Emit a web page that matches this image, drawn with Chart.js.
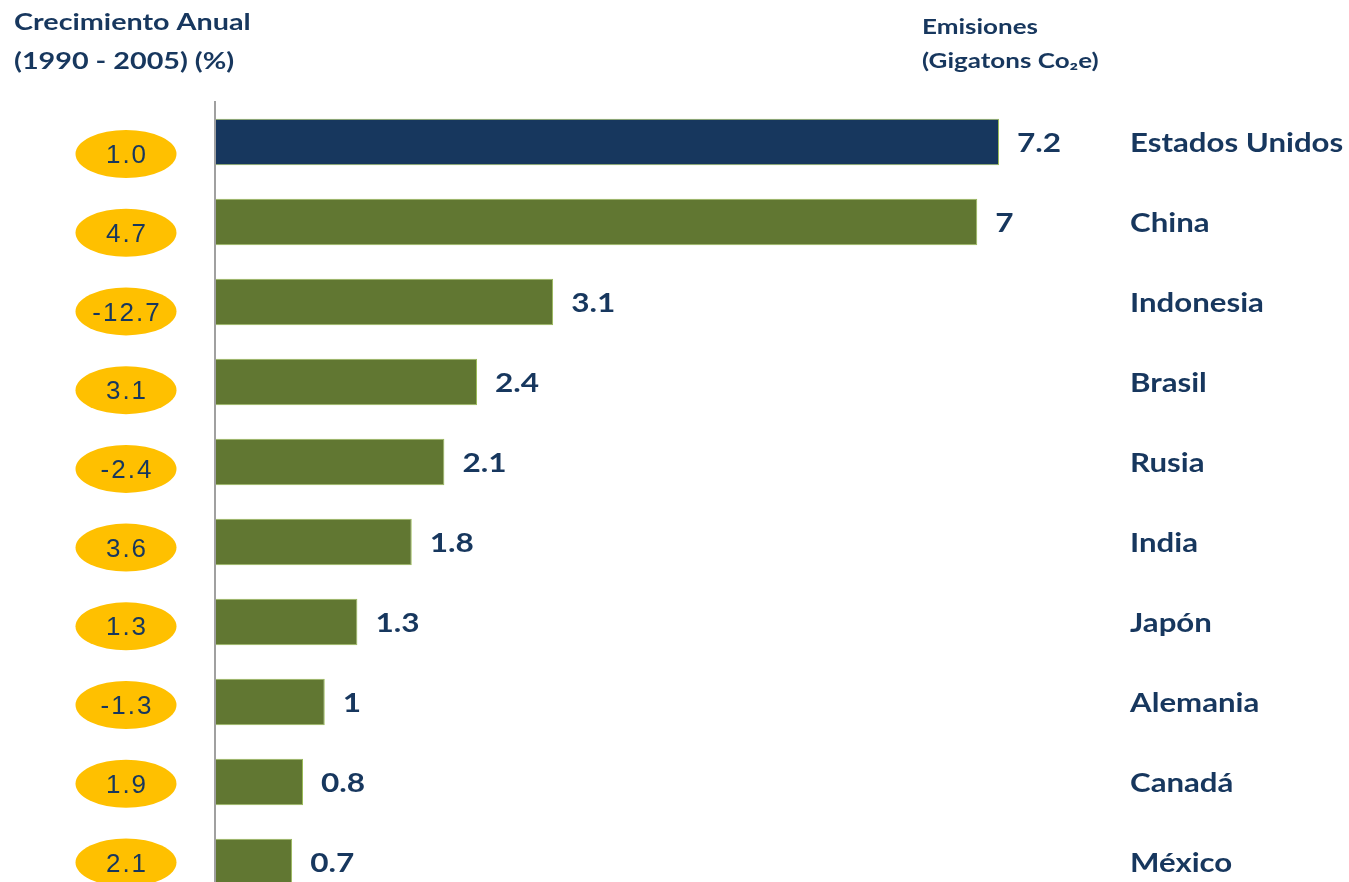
<!DOCTYPE html>
<html lang="es">
<head>
<meta charset="utf-8">
<title>Emisiones por país</title>
<script src="https://cdn.jsdelivr.net/npm/chart.js@4/dist/chart.umd.min.js"></script>
<style>
    html, body { margin: 0; padding: 0; background: #fff; overflow: hidden; }
    #wrap { width: 1349px; height: 902px; }
</style>
</head>
<body>
<div id="wrap"><canvas id="chart" width="1349" height="902"></canvas></div>
<script>
// --- Datos ---
const paises = ['Estados Unidos', 'China', 'Indonesia', 'Brasil', 'Rusia', 'India', 'Japón', 'Alemania', 'Canadá', 'México'];
const emisiones = [7.2, 7, 3.1, 2.4, 2.1, 1.8, 1.3, 1, 0.8, 0.7];
const etiquetasEmisiones = ['7.2', '7', '3.1', '2.4', '2.1', '1.8', '1.3', '1', '0.8', '0.7'];
const crecimiento = ['1.0', '4.7', '-12.7', '3.1', '-2.4', '3.6', '1.3', '-1.3', '1.9', '2.1'];

const AZUL = '#17375E';
const VERDE = '#617732';
const ORO = '#FFC000';

// el texto original está algo ensanchado
const drawText = (ctx, text, x, y, font, color, stretch = 1.15) => {
    ctx.save();
    ctx.font = font;
    ctx.fillStyle = color;
    ctx.textBaseline = 'middle';
    ctx.textAlign = 'left';
    ctx.translate(x, y);
    ctx.scale(stretch, 1);
    ctx.fillText(text, 0, 0);
    ctx.restore();
};

// --- Plugin de anotaciones ---
const anotaciones = {
    id: 'anotaciones',
    afterDatasetsDraw(chart) {
        const { ctx, chartArea, scales } = chart;
        const meta = chart.getDatasetMeta(0);

        // eje vertical
        ctx.save();
        ctx.strokeStyle = '#A0A0A0';
        ctx.lineWidth = 2;
        ctx.beginPath();
        ctx.moveTo(chartArea.left - 1, chartArea.top - 1);
        ctx.lineTo(chartArea.left - 1, chart.height);
        ctx.stroke();
        ctx.restore();

        const paso = scales.y.getPixelForValue(1) - scales.y.getPixelForValue(0);

        meta.data.forEach((bar, i) => {
            // valor
            drawText(ctx, etiquetasEmisiones[i], bar.x + 18, bar.y + 1, 'bold 27px Lato', AZUL, 1.17);
            // país
            drawText(ctx, paises[i], 1130, bar.y + 1, 'bold 27px Lato', AZUL, 1.155);

            // óvalo de crecimiento
            const oy = scales.y.getPixelForValue(0) + 12 + i * paso * 0.984;
            const ox = 126;
            ctx.save();
            ctx.fillStyle = ORO;
            ctx.beginPath();
            ctx.ellipse(ox, oy, 50.5, 24, 0, 0, Math.PI * 2);
            ctx.fill();
            ctx.restore();
            ctx.save();
            ctx.font = '26px "Liberation Sans"';
            ctx.letterSpacing = '2px';
            ctx.fillStyle = AZUL;
            ctx.textAlign = 'center';
            ctx.textBaseline = 'middle';
            ctx.fillText(crecimiento[i], ox + 1, oy + 2);
            ctx.restore();
        });

        // encabezados
        drawText(ctx, 'Crecimiento Anual', 14, 23, 'bold 23px Lato', AZUL, 1.25);
        drawText(ctx, '(1990 - 2005) (%)', 14, 62, 'bold 23px Lato', AZUL, 1.25);
        drawText(ctx, 'Emisiones', 922, 28, 'bold 20px Lato', AZUL, 1.3);
        drawText(ctx, '(Gigatons Co₂e)', 922, 62, 'bold 20px Lato', AZUL, 1.3);
    }
};

const ctx = document.getElementById('chart').getContext('2d');
new Chart(ctx, {
    type: 'bar',
    data: {
        labels: paises,
        datasets: [{
            data: emisiones,
            backgroundColor: emisiones.map((_, i) => i === 0 ? AZUL : VERDE),
            borderColor: '#9BBB59',
            borderWidth: 1,
            barPercentage: 0.58,
            categoryPercentage: 1
        }]
    },
    options: {
        indexAxis: 'y',
        responsive: false,
        animation: false,
        layout: { padding: { left: 216, right: 45.5, top: 102, bottom: 0 } },
        scales: {
            x: { display: false, min: 0, max: 10 },
            y: { display: false }
        },
        plugins: { legend: { display: false }, tooltip: { enabled: false } }
    },
    plugins: [anotaciones]
});
</script>
</body>
</html>
